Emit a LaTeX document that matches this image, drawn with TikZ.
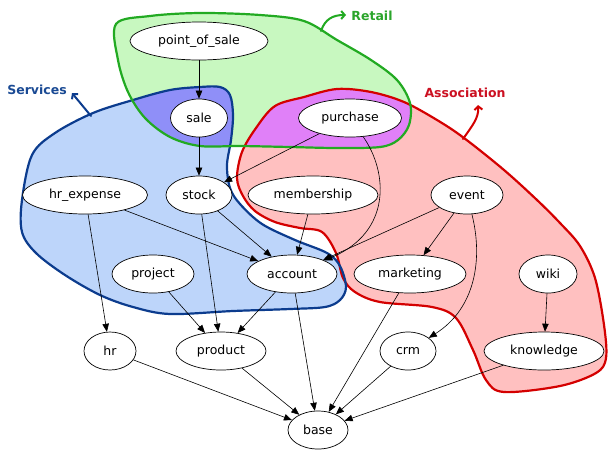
\documentclass[tikz,border=0pt]{standalone}
\usepackage{fontspec}
\setmainfont{DejaVu Sans}
\usetikzlibrary{shapes.geometric,arrows.meta}
\definecolor{gline}{HTML}{22AA22}
\definecolor{gfill}{HTML}{C8F8C0}
\definecolor{gtext}{HTML}{2BA52B}
\definecolor{bline}{HTML}{0C3C8E}
\definecolor{bfill}{HTML}{BDD5FA}
\definecolor{btext}{HTML}{1A4A94}
\definecolor{rline}{HTML}{D40000}
\definecolor{rfill}{HTML}{FFC0C0}
\definecolor{rtext}{HTML}{CC1122}
\definecolor{gbfill}{HTML}{8F8FF8}
\definecolor{grfill}{HTML}{E080F8}
\begin{document}
\begin{tikzpicture}[x=1pt,y=-1pt,
  nd/.style={ellipse, draw=black, fill=white, line width=0.7pt, inner sep=0pt,
    minimum height=38pt, font=\fontsize{12.5}{14}\selectfont},
  edge/.style={-{Triangle[length=8pt,width=6.5pt]}, line width=0.6pt},
  blob/.style={line width=2.2pt, line join=round},
  lbl/.style={font=\bfseries\fontsize{12.5}{14}\selectfont, inner sep=0pt},
  labarrow/.style={line width=2pt, line cap=round, -{Straight Barb[length=3.5pt,width=8pt]}}]
\useasboundingbox (0,0) rectangle (609,451);
\fill[white] (0,0) rectangle (609,451);
\def\greenpath{plot[smooth cycle, tension=0.55] coordinates {(116,24) (150,16) (200,13) (260,15) (304,21) (337,40) (371,60) (397,80) (410,103) (409,125) (398,140) (380,147) (337,148) (290,147) (240,146) (200,146) (170,137) (145,118) (128,92) (118,60)}}
\def\bluepath{plot[smooth cycle, tension=0.55] coordinates {(22,232) (22,200) (32,155) (55,133) (93,113) (133,100) (170,90) (200,87) (220,87) (230,95) (233,115) (231,140) (227,165) (230,188) (240,204) (262,224) (295,240) (327,253) (340,266) (346,287) (340,300) (325,307) (290,309) (233,311) (170,314) (133,307) (100,295) (65,275) (36,253)}}
\def\redpath{plot[smooth cycle, tension=0.55] coordinates {(237,178) (242,152) (256,128) (275,106) (304,97) (337,89) (371,92) (404,102) (437,120) (464,138) (504,170) (537,200) (560,223) (580,246) (595,278) (604,325) (606,358) (596,373) (560,386) (504,392) (486,380) (473,350) (456,318) (432,307) (380,302) (355,292) (343,278) (336,253) (322,232) (300,228) (275,222) (255,211) (243,196)}}
% fills
\fill[rfill] \redpath;
\fill[bfill] \bluepath;
\fill[gfill] \greenpath;
\begin{scope}
  \clip \greenpath;
  \fill[gbfill] \bluepath;
  \fill[grfill] \redpath;
\end{scope}
% outlines
\draw[blob, rline] \redpath;
\draw[blob, bline] \bluepath;
\draw[blob, gline] \greenpath;
% group labels
\node[lbl, text=gtext] (retail) at (372,16) {Retail};
\node[lbl, text=btext] (services) at (37,90) {Services};
\node[lbl, text=rtext] (assoc) at (465,93) {Association};
\coordinate (retailfrom) at (321,31);
\coordinate (retailtip) at (346,15);
\coordinate (servfrom) at (91,116);
\coordinate (servtip) at (72,93);
\coordinate (assocfrom) at (463,139);
\coordinate (assoctip) at (478,105);
\draw[labarrow, gline] (retailfrom) .. controls (325,19) and (333,15) .. (retailtip);
\draw[labarrow, bline] (servfrom) -- (servtip);
\draw[labarrow, rline] (assocfrom) .. controls (472,126) and (479,118) .. (assoctip);
% nodes
\node[nd, minimum width=138pt] (pos) at (199,41) {point\_of\_sale};
\node[nd, minimum width=57pt] (sale) at (199,118) {sale};
\node[nd, minimum width=103pt] (purchase) at (350,118) {purchase};
\node[nd, minimum width=125pt] (hrexp) at (85,195) {hr\_expense};
\node[nd, minimum width=66pt] (stock) at (199,195) {stock};
\node[nd, minimum width=130pt] (membership) at (313,195) {membership};
\node[nd, minimum width=72pt] (event) at (467,195) {event};
\node[nd, minimum width=82pt] (project) at (153,274) {project};
\node[nd, minimum width=90pt] (account) at (292,274) {account};
\node[nd, minimum width=112pt] (marketing) at (410,274) {marketing};
\node[nd, minimum width=58pt] (wiki) at (548,274) {wiki};
\node[nd, minimum width=52pt] (hr) at (110,351) {hr};
\node[nd, minimum width=90pt] (product) at (221,351) {product};
\node[nd, minimum width=56pt] (crm) at (408,351) {crm};
\node[nd, minimum width=120pt] (knowledge) at (544,351) {knowledge};
\node[nd, minimum width=60pt] (base) at (318,430) {base};
% edges
\draw[edge] (pos) -- (sale);
\draw[edge] (sale) -- (stock);
\draw[edge] (purchase) -- (stock);
\draw[edge] (purchase) .. controls (388,172) and (392,232) .. (account);
\draw[edge] (hrexp) -- (hr);
\draw[edge] (hrexp) -- (account);
\draw[edge] (stock) -- (account);
\draw[edge] (stock) -- (product);
\draw[edge] (membership) -- (account);
\draw[edge] (event) -- (account);
\draw[edge] (event) -- (marketing);
\draw[edge] (event) .. controls (483,258) and (476,308) .. (crm);
\draw[edge] (project) -- (product);
\draw[edge] (account) -- (product);
\draw[edge] (account) -- (base);
\draw[edge] (marketing) -- (base);
\draw[edge] (wiki) -- (knowledge);
\draw[edge] (hr) -- (base);
\draw[edge] (product) -- (base);
\draw[edge] (crm) -- (base);
\draw[edge] (knowledge) -- (base);
\end{tikzpicture}
\end{document}
